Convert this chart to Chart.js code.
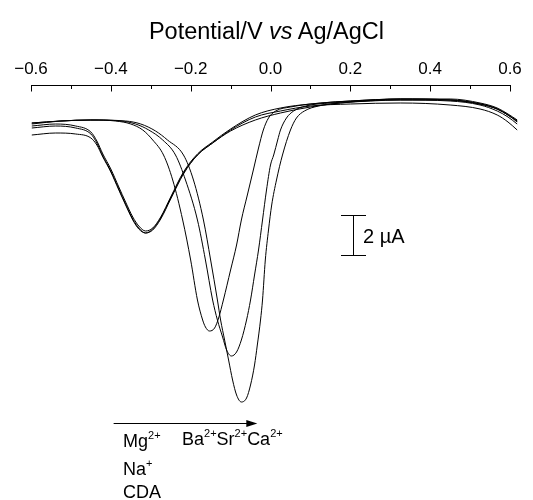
<!DOCTYPE html>
<html>
<head>
<meta charset="utf-8">
<script src="https://cdn.jsdelivr.net/npm/chart.js@4"></script>
<style>
  body { margin: 0; background: #fff; }
  #wrap { position: relative; width: 533px; height: 500px; font-family: Arial, "Liberation Sans", sans-serif; color: #000; }
  canvas { position: absolute; left: 0; top: 0; }
  .lbl { position: absolute; white-space: nowrap; line-height: 1; }
  .lbl sup { font-size: 11px; position: relative; top: -8px; vertical-align: baseline; line-height: 0; }
</style>
</head>
<body>
<div id="wrap">
  <canvas id="chart" width="533" height="500"></canvas>
  <div class="lbl" style="left:0;width:533px;text-align:center;top:20px;font-size:23.5px">Potential/V <i>vs</i> Ag/AgCl</div>
  <div class="lbl" style="left:363px;top:226px;font-size:20px">2 µA</div>
  <div class="lbl" style="left:123px;top:432px;font-size:18px">Mg<sup>2+</sup></div>
  <div class="lbl" style="left:123px;top:460px;font-size:18px">Na<sup>+</sup></div>
  <div class="lbl" style="left:123px;top:483px;font-size:18px">CDA</div>
  <div class="lbl" style="left:182px;top:430px;font-size:18px">Ba<sup>2+</sup>Sr<sup>2+</sup>Ca<sup>2+</sup></div>
</div>
<script>
// potential (V vs Ag/AgCl) and current (µA)

// Mg2+, Na+ and CDA share one potential grid
const potA = [-0.598, -0.538, -0.488, -0.45, -0.435, -0.42, -0.4, -0.38, -0.363, -0.345, -0.33, -0.313, -0.295,
  -0.275, -0.25, -0.218, -0.183, -0.145, -0.1, -0.038, 0.025, 0.1, 0.2, 0.325, 0.45, 0.525, 0.568, 0.595, 0.618];
const mgCur = [-2.05, -1.95, -2.05, -2.35, -2.8, -3.45, -4.2, -5.1, -5.85, -6.6, -7.05, -7.3, -7.15,
  -6.6, -5.6, -4.35, -3.45, -2.85, -2.2, -1.5, -1.15, -0.95, -0.8, -0.7, -0.75, -0.95, -1.2, -1.5, -1.85];
const naCur = [-2.15, -2.05, -2.15, -2.45, -2.9, -3.55, -4.3, -5.2, -5.95, -6.7, -7.15, -7.4, -7.2,
  -6.65, -5.65, -4.4, -3.5, -2.9, -2.3, -1.75, -1.4, -1.1, -0.85, -0.75, -0.8, -1.0, -1.3, -1.6, -1.95];
const cdaCur = [-2.5, -2.4, -2.45, -2.65, -3.0, -3.6, -4.35, -5.25, -6.0, -6.75, -7.2, -7.4, -7.25,
  -6.7, -5.7, -4.45, -3.5, -2.9, -2.25, -1.6, -1.3, -1.05, -0.95, -0.9, -1.0, -1.2, -1.5, -1.85, -2.25];

const potBa = [-0.598, -0.525, -0.45, -0.388, -0.35, -0.32, -0.295, -0.268, -0.245, -0.22, -0.2, -0.183, -0.17,
  -0.163, -0.153, -0.14, -0.13, -0.118, -0.1, -0.085, -0.073, -0.058, -0.043, -0.03, -0.018, -0.005, 0.013,
  0.05, 0.125, 0.2, 0.325, 0.45, 0.525, 0.568, 0.595, 0.618];
const baCur = [-1.95, -1.8, -1.75, -1.8, -1.95, -2.25, -2.75, -3.5, -4.75, -6.75, -8.75, -10.75, -11.75,
  -12.1, -12.3, -12.15, -11.65, -10.75, -9.25, -8.0, -6.75, -5.5, -4.25, -3.15, -2.25, -1.65, -1.3,
  -1.1, -0.9, -0.8, -0.7, -0.7, -0.9, -1.15, -1.45, -1.75];

const potSr = [-0.598, -0.525, -0.45, -0.375, -0.338, -0.305, -0.27, -0.238, -0.213, -0.183, -0.163, -0.145, -0.133,
  -0.12, -0.11, -0.098, -0.085, -0.073, -0.06, -0.05, -0.04, -0.03, -0.02, -0.01, 0, 0.008, 0.018, 0.025,
  0.04, 0.058, 0.088, 0.15, 0.225, 0.325, 0.45, 0.525, 0.568, 0.595, 0.618];
const srCur = [-1.9, -1.8, -1.75, -1.8, -1.95, -2.25, -2.75, -3.5, -4.75, -6.75, -8.75, -10.75, -11.75,
  -12.6, -13.25, -13.55, -13.35, -12.75, -11.75, -10.75, -9.5, -8.25, -6.75, -5.25, -4.0, -3.5, -2.75, -2.25,
  -1.65, -1.3, -1.05, -0.9, -0.8, -0.7, -0.75, -0.95, -1.2, -1.5, -1.8];

const potCa = [-0.598, -0.525, -0.45, -0.363, -0.325, -0.288, -0.258, -0.218, -0.193, -0.168, -0.15, -0.133, -0.125,
  -0.115, -0.105, -0.095, -0.085, -0.073, -0.06, -0.05, -0.04, -0.033, -0.025, -0.02, -0.013, -0.005, 0.003,
  0.015, 0.03, 0.05, 0.065, 0.085, 0.12, 0.175, 0.25, 0.325, 0.45, 0.525, 0.568, 0.595, 0.618];
const caCur = [-1.9, -1.8, -1.75, -1.8, -1.95, -2.3, -2.75, -3.5, -4.75, -6.75, -8.75, -10.75, -11.75,
  -12.75, -13.75, -14.75, -15.5, -15.85, -15.65, -15.0, -14.0, -13.0, -11.75, -10.75, -8.75, -7.25, -6.0,
  -4.75, -3.5, -2.25, -1.65, -1.3, -1.05, -0.9, -0.8, -0.75, -0.75, -0.95, -1.2, -1.5, -1.8];

const xTicks = [-0.6, -0.4, -0.2, 0.0, 0.2, 0.4, 0.6];
const minorTicks = [-0.5, -0.3, -0.1, 0.1, 0.3, 0.5];

// 2 µA scale bar and the selectivity arrow under the peaks
const scaleBarPot = 0.207, scaleBarTop = -6.5, scaleBarSpan = 2;
const arrowFrom = -0.393, arrowTo = -0.033, arrowLevel = -16.9;

function pairs(xs, ys) {
  return xs.map((v, i) => ({ x: v, y: ys[i] }));
}

function fmt(v) {
  if (Math.abs(v) < 1e-9) return '0.0';
  return v.toFixed(1).replace('-', '\u2212');
}

const extras = {
  id: 'extras',
  afterDatasetsDraw(chart) {
    const { ctx, chartArea, scales: { x, y } } = chart;
    ctx.save();
    ctx.strokeStyle = '#000';
    ctx.fillStyle = '#000';
    ctx.lineWidth = 1;

    // top axis line with inward ticks
    const top = Math.round(chartArea.top) + 0.5;
    ctx.beginPath();
    ctx.moveTo(x.getPixelForValue(xTicks[0]), top);
    ctx.lineTo(x.getPixelForValue(xTicks[xTicks.length - 1]) + 1, top);
    xTicks.forEach(v => {
      const px = Math.round(x.getPixelForValue(v)) + 0.5;
      ctx.moveTo(px, top);
      ctx.lineTo(px, top + 6);
    });
    minorTicks.forEach(v => {
      const px = Math.round(x.getPixelForValue(v)) + 0.5;
      ctx.moveTo(px, top);
      ctx.lineTo(px, top + 3.5);
    });
    ctx.stroke();

    // scale bar
    const bx = Math.round(x.getPixelForValue(scaleBarPot)) + 0.5;
    const b0 = Math.round(y.getPixelForValue(scaleBarTop)) + 0.5;
    const b1 = Math.round(y.getPixelForValue(scaleBarTop - scaleBarSpan)) + 0.5;
    ctx.beginPath();
    ctx.moveTo(bx, b0); ctx.lineTo(bx, b1);
    ctx.moveTo(bx - 12.5, b0); ctx.lineTo(bx + 12.5, b0);
    ctx.moveTo(bx - 12.5, b1); ctx.lineTo(bx + 12.5, b1);
    ctx.stroke();

    // arrow
    const ax0 = x.getPixelForValue(arrowFrom);
    const ax1 = x.getPixelForValue(arrowTo);
    const ay = Math.round(y.getPixelForValue(arrowLevel)) + 0.5;
    ctx.beginPath();
    ctx.moveTo(ax0, ay); ctx.lineTo(ax1 - 8, ay);
    ctx.stroke();
    ctx.beginPath();
    ctx.moveTo(ax1, ay);
    ctx.lineTo(ax1 - 11, ay - 3.5);
    ctx.lineTo(ax1 - 11, ay + 3.5);
    ctx.closePath();
    ctx.fill();
    ctx.restore();
  }
};

const series = [
  pairs(potA, mgCur), pairs(potA, naCur), pairs(potA, cdaCur),
  pairs(potBa, baCur), pairs(potSr, srCur), pairs(potCa, caCur)
];

new Chart(document.getElementById('chart'), {
  type: 'line',
  data: {
    datasets: series.map(d => ({
      data: d,
      borderColor: '#000',
      borderWidth: 1,
      pointRadius: 0,
      cubicInterpolationMode: 'monotone',
      clip: false
    }))
  },
  options: {
    responsive: false,
    animation: false,
    devicePixelRatio: 1,
    layout: { padding: { left: 31, right: 23, top: 54.6, bottom: 85 } },
    plugins: { legend: { display: false }, tooltip: { enabled: false } },
    scales: {
      x: {
        type: 'linear',
        position: 'top',
        min: -0.6,
        max: 0.6,
        grid: { display: false, drawTicks: false },
        border: { display: false },
        afterBuildTicks: s => { s.ticks = xTicks.map(v => ({ value: v })); },
        ticks: {
          padding: 5,
          color: '#000',
          autoSkip: false,
          maxRotation: 0,
          font: { family: 'Arial, "Liberation Sans", sans-serif', size: 17 },
          callback: v => fmt(v)
        }
      },
      y: { display: false, min: -16.5, max: 0 }
    }
  },
  plugins: [extras]
});
</script>
</body>
</html>
